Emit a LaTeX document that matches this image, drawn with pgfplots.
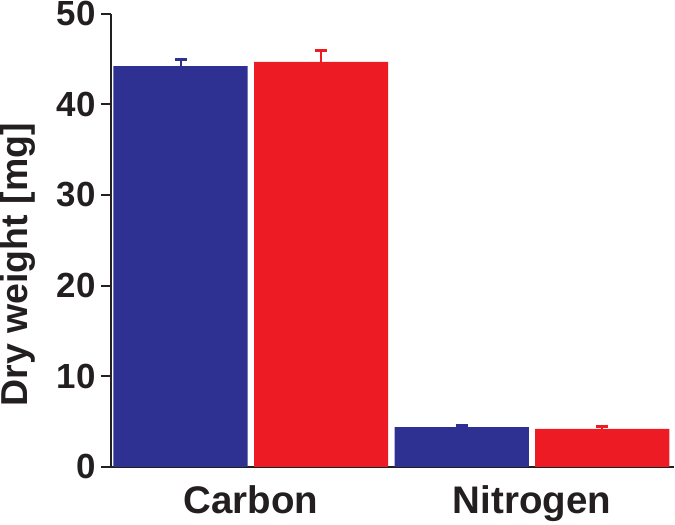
\documentclass[border=0pt]{standalone}
\usepackage{pgfplots}
\pgfplotsset{compat=1.18}
\usepackage{fontspec}
\setmainfont{Liberation Sans}

\definecolor{barblue}{HTML}{2E3192}
\definecolor{barred}{HTML}{ED1C24}
\definecolor{inkdark}{HTML}{231F20}

\begin{document}
\begin{tikzpicture}
\begin{axis}[
scale only axis,
width=282.5pt,
height=227.5pt,
font=\bfseries,
/pgf/number format/assume math mode=true,
axis x line=bottom,
axis y line=left,
axis line style={-, inkdark, line width=1pt},
xmin=-0.495, xmax=3.51,
ymin=0, ymax=50,
ytick={0,10,20,30,40,50},
xtick={0.5,2.5},
xticklabels={Carbon,Nitrogen},
x tick style={draw=none},
major tick length=5pt,
y tick style={inkdark, line width=1pt},
tick align=outside,
yticklabel style={font=\fontsize{17.5}{20}\selectfont\bfseries, inner sep=0.6pt, xshift=-2pt, text=inkdark},
xticklabel style={font=\fontsize{19.3}{22}\selectfont\bfseries, inner xsep=0pt, inner ysep=1.5pt, yshift=-2.8pt, text=inkdark},
ylabel={Dry weight [mg]},
ylabel shift=10pt,
ylabel style={font=\fontsize{18.8}{22}\selectfont\bfseries, inner sep=0pt, text=inkdark, at={(ticklabel cs:0.446)}, anchor=near ticklabel},
clip=false,
]
% blue series
\addplot[ybar, bar shift=0pt, bar width=0.954, fill=barblue, draw=none,
  error bars/.cd, y dir=plus, y explicit,
  error bar style={line width=1pt, barblue},
  error mark options={rotate=90, line width=1.5pt, mark size=3pt, barblue}]
  coordinates {(0,44.2) +- (0,0.75) (2,4.4) +- (0,0.17)};
% red series
\addplot[ybar, bar shift=0pt, bar width=0.954, fill=barred, draw=none,
  error bars/.cd, y dir=plus, y explicit,
  error bar style={line width=1pt, barred},
  error mark options={rotate=90, line width=1.5pt, mark size=3pt, barred}]
  coordinates {(1,44.68) +- (0,1.29) (3,4.21) +- (0,0.3)};
\end{axis}
\end{tikzpicture}
\end{document}
